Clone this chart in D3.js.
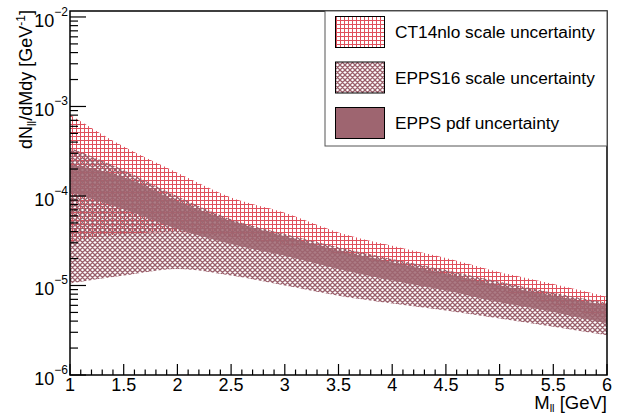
<!DOCTYPE html>
<html lang="en">
<head>
<meta charset="utf-8" />
<title>Dilepton mass spectrum · scale and pdf uncertainties</title>
<style>
html,body{margin:0;background:#fff}
svg{display:block;font-family:"Liberation Sans",Arial,sans-serif}
</style>
<script src="https://cdn.jsdelivr.net/npm/d3@7/dist/d3.min.js"></script>
</head>
<body>
<div id="chart"></div>

<script>
/* ----------------------------- data ----------------------------------- */
const mass   = [1, 1.5, 2, 2.5, 3, 3.5, 4, 4.5, 5, 5.5, 6];

const ct14Hi = [8.1e-4, 3.56e-4, 1.82e-4, 9.6e-5, 6.5e-5, 3.92e-5, 2.78e-5, 2.03e-5, 1.41e-5, 1.04e-5, 7.5e-6];
const ct14Lo = [3.06e-5, 3.75e-5, 3.95e-5, 3.48e-5, 2.83e-5, 2.25e-5, 1.7e-5, 1.22e-5, 8.7e-6, 6.1e-6, 4.27e-6];

const eppsHi = [3.45e-4, 1.95e-4, 9.9e-5, 5.5e-5, 3.75e-5, 2.67e-5, 1.98e-5, 1.49e-5, 1.1e-5, 8.3e-6, 6.4e-6];
const eppsLo = [1.05e-5, 1.29e-5, 1.53e-5, 1.29e-5, 1.0e-5, 7.7e-6, 6.3e-6, 5.27e-6, 4.27e-6, 3.45e-6, 2.78e-6];

const pdfHi  = [2.25e-4, 1.62e-4, 8.73e-5, 5.24e-5, 3.54e-5, 2.45e-5, 1.82e-5, 1.35e-5, 1.0e-5, 7.7e-6, 6.0e-6];
const pdfLo  = [1.1e-4, 7.1e-5, 4.27e-5, 2.9e-5, 2.15e-5, 1.53e-5, 1.14e-5, 8.8e-6, 6.5e-6, 5.06e-6, 3.75e-6];

const xTicks  = [1, 1.5, 2, 2.5, 3, 3.5, 4, 4.5, 5, 5.5, 6];
const yDecade = [-6, -5, -4, -3, -2];
const legendLabels = ["CT14nlo scale uncertainty", "EPPS16 scale uncertainty", "EPPS pdf uncertainty"];

/* ---------------------------- layout ---------------------------------- */
const width = 620, height = 416;
const frame = {left: 70, right: 607, top: 11, bottom: 375};

const svg = d3.select("#chart").append("svg")
              .attr("width", width).attr("height", height);

const x = d3.scaleLinear().domain([1, 6]).range([frame.left, frame.right]);
const y = d3.scaleLog().domain([1e-6, Math.pow(10, -2 + 6/90)]).range([frame.bottom, frame.top]);

/* --------------------------- patterns --------------------------------- */
const defs = svg.append("defs");

const grid = defs.append("pattern").attr("id", "grid")
    .attr("patternUnits", "userSpaceOnUse").attr("width", 4).attr("height", 4);
grid.append("path").attr("d", "M0,0.5H4M0.5,0V4")
    .attr("stroke", "#e0505c").attr("stroke-width", 1).attr("fill", "none");

const cross = defs.append("pattern").attr("id", "cross")
    .attr("patternUnits", "userSpaceOnUse").attr("width", 5).attr("height", 5);
cross.append("path").attr("d", "M0,0L5,5M5,0L0,5M-1,4L1,6M4,-1L6,1M-1,1L1,-1M4,6L6,4")
    .attr("stroke", "#9a5f6b").attr("stroke-width", 1.3).attr("fill", "none");

/* ---------------------------- bands ----------------------------------- */
const band = (hi, lo) => d3.area()
    .x((d, i) => x(mass[i]))
    .y0((d, i) => y(lo[i]))
    .y1((d, i) => y(hi[i]))
    .curve(d3.curveMonotoneX)(mass);

const bands = [
  {hi: ct14Hi, lo: ct14Lo, fill: "url(#grid)", op: 1},
  {hi: eppsHi, lo: eppsLo, fill: "url(#cross)", op: 1},
  {hi: pdfHi,  lo: pdfLo,  fill: "#9e6570", op: 0.85}
];

const plot = svg.append("g");
plot.append("clipPath").attr("id", "clip").append("rect")
    .attr("x", frame.left).attr("y", frame.top)
    .attr("width", frame.right - frame.left).attr("height", frame.bottom - frame.top);
bands.forEach(b => {
  plot.append("path").attr("d", band(b.hi, b.lo))
      .attr("fill", b.fill).attr("fill-opacity", b.op)
      .attr("clip-path", "url(#clip)");
});

/* ---------------------------- frame / axes ---------------------------- */
svg.append("rect")
   .attr("x", frame.left).attr("y", frame.top)
   .attr("width", frame.right - frame.left).attr("height", frame.bottom - frame.top)
   .attr("fill", "none").attr("stroke", "#000").attr("stroke-width", 1.5);

const axes = svg.append("g").attr("stroke", "#000").attr("stroke-width", 1.2);

// x ticks (inside, upward)
d3.range(10, 61).map(v => v / 10).forEach(v => {
  const major = xTicks.includes(v);
  axes.append("line")
      .attr("x1", x(v)).attr("x2", x(v))
      .attr("y1", frame.bottom).attr("y2", frame.bottom - (major ? 11 : 5.5));
});

// y ticks (inside, rightward)
yDecade.forEach(k => {
  axes.append("line")
      .attr("x1", frame.left).attr("x2", frame.left + 16)
      .attr("y1", y(Math.pow(10, k))).attr("y2", y(Math.pow(10, k)));
  if (k < -2) d3.range(2, 10).forEach(m => {
    const v = m * Math.pow(10, k);
    axes.append("line")
        .attr("x1", frame.left).attr("x2", frame.left + 8)
        .attr("y1", y(v)).attr("y2", y(v));
  });
});

// x tick labels
svg.append("g").selectAll("text").data(xTicks).join("text")
   .attr("x", d => x(d)).attr("y", 391)
   .attr("text-anchor", "middle").attr("font-size", 18)
   .text(d => d);

// y tick labels  10^k
const yl = svg.append("g").selectAll("text").data(yDecade).join("text")
   .attr("x", 68).attr("y", d => y(Math.pow(10, d)) + 10)
   .attr("text-anchor", "end").attr("font-size", 18);
yl.append("tspan").text("10");
yl.append("tspan").attr("dy", -11).attr("font-size", 12).text(d => "\u2212" + (-d));

// axis titles
const xt = svg.append("text").attr("x", frame.right).attr("y", 409)
   .attr("text-anchor", "end").attr("font-size", 18.5);
xt.append("tspan").text("M");
xt.append("tspan").attr("dy", 3).attr("font-size", 11).text("ll");
xt.append("tspan").attr("dy", -3).text(" [GeV]");

const yt = svg.append("text").attr("transform", "translate(32,10) rotate(-90)")
   .attr("text-anchor", "end").attr("font-size", 18);
yt.append("tspan").text("dN");
yt.append("tspan").attr("dy", 4).attr("font-size", 12).text("ll");
yt.append("tspan").attr("dy", -4).text("/dMdy [GeV");
yt.append("tspan").attr("dy", -7).attr("font-size", 12).text("-1");
yt.append("tspan").attr("dy", 7).text("]");

/* ---------------------------- legend ---------------------------------- */
const lg = svg.append("g");
lg.append("rect").attr("x", 325).attr("y", frame.top)
  .attr("width", frame.right - 325).attr("height", 146 - frame.top)
  .attr("fill", "#fff").attr("stroke", "#555").attr("stroke-width", 1);

const swatchFill = ["url(#grid)", "url(#cross)", "#9e6570"];
legendLabels.forEach((t, i) => {
  const cy = 32 + i * 45.5;
  lg.append("rect").attr("x", 335.5).attr("y", cy - 15.5)
    .attr("width", 49).attr("height", 31)
    .attr("fill", swatchFill[i]).attr("stroke", "#000").attr("stroke-width", 1);
  lg.append("text").attr("x", 395).attr("y", cy + 6)
    .attr("font-size", 17.3).text(t);
});
</script>
</body>
</html>
